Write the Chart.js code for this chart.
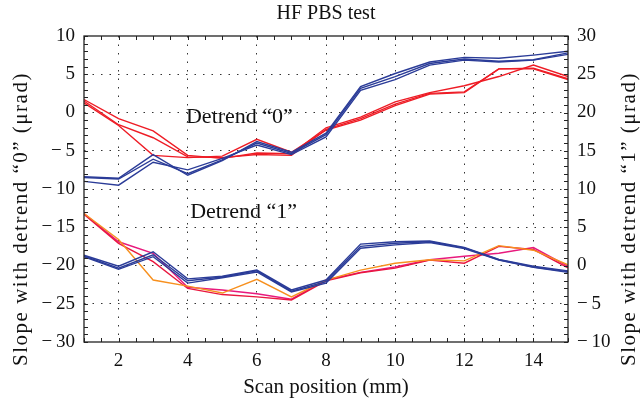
<!DOCTYPE html>
<html>
<head>
<meta charset="utf-8">
<script src="https://cdn.jsdelivr.net/npm/chart.js@4.4.1/dist/chart.umd.min.js"></script>
<style>
  html, body { margin: 0; padding: 0; background: #fff; }
  #wrap { width: 643px; height: 404px; }
</style>
</head>
<body>
<div id="wrap"><canvas id="chart"></canvas></div>
<script>
// HF PBS test - slope vs scan position, two detrend modes

// scan positions (mm)
const positions = [1, 2, 3, 4, 5, 6, 7, 8, 9, 10, 11, 12, 13, 14, 15];
const xTickLabels = [2, 4, 6, 8, 10, 12, 14];

// detrend "0" runs (left axis)
const blue0a = [-8.4, -8.6, -5.5, -8.2, -6.3, -3.8, -5.2, -2.7, 3.4, 5.1, 6.6, 7.2, 7.1, 7.5, 8.0];
const blue0b = [-8.5, -8.7, -6.1, -8.0, -6.2, -4.0, -5.35, -2.9, 3.15, 4.7, 6.4, 7.0, 6.7, 6.9, 7.8];
const blue0c = [-9.0, -9.5, -6.5, -7.5, -6.0, -4.25, -5.5, -3.2, 2.9, 4.3, 6.2, 6.85, 6.6, 6.85, 7.6];
const red0a = [1.7, -0.8, -2.4, -5.6, -6.0, -5.3, -5.4, -2.0, -0.6, 1.4, 2.6, 3.5, 4.7, 6.2, 4.7];
const red0b = [1.5, -1.6, -3.3, -5.8, -5.9, -5.5, -5.6, -2.2, -0.8, 1.1, 2.5, 2.7, 5.7, 5.8, 4.4];
const red0c = [1.25, -1.7, -5.6, -5.9, -5.7, -3.5, -5.2, -2.3, -1.0, 0.9, 2.4, 2.6, 5.7, 5.7, 4.3];

// detrend "1" runs (right axis)
const blue1a = [1.35, -0.1, 1.8, -1.75, -1.4, -0.6, -3.2, -1.9, 2.8, 3.1, 3.2, 2.35, 0.8, -0.1, -0.7];
const blue1b = [1.25, -0.35, 1.4, -2.0, -1.5, -0.7, -3.35, -2.1, 2.5, 2.9, 3.1, 2.3, 0.75, -0.2, -0.8];
const blue1c = [1.15, -0.5, 1.15, -2.3, -1.6, -0.85, -3.45, -2.3, 2.25, 2.7, 3.0, 2.2, 0.7, -0.25, -0.9];
const orange1 = [6.8, 3.4, -1.9, -2.7, -3.6, -1.8, -4.1, -1.9, -0.6, 0.3, 0.75, 0.6, 2.6, 2.0, 0.1];
const pink1 = [6.8, 3.1, 1.6, -2.85, -3.2, -3.7, -4.4, -1.9, -0.9, -0.2, 0.75, 1.2, 1.6, 2.35, -0.1];
const crimson1 = [6.7, 2.9, 0.5, -3.0, -3.8, -4.1, -4.5, -2.0, -0.95, -0.35, 0.7, 0.3, 2.5, 2.1, -0.3];

const BLUE = '#2b3c98';
const RED = '#ee1c25';
const ORANGE = '#f7901e';
const PINK = '#e8197d';
const CRIMSON = '#e9173f';

const SERIF = '"Liberation Serif", "DejaVu Serif", serif';

function minusLabel(v) {
    return v < 0 ? '\u2212\u2009' + Math.abs(v) : String(v);
}

function series(values, color, axis) {
    return {
        data: positions.map((x, i) => ({ x: x, y: values[i] })),
        borderColor: color,
        borderWidth: 1.4,
        pointRadius: 0,
        tension: 0,
        fill: false,
        yAxisID: axis
    };
}

// box, inward ticks, axis titles and the two in-plot labels
const framePlugin = {
    id: 'frame',
    afterDraw(chart) {
        const { ctx, chartArea: a, scales } = chart;
        const tl = 4;
        ctx.save();
        ctx.strokeStyle = '#222';
        ctx.lineWidth = 1;
        for (let v = 1; v <= 15; v += 0.5) {
            const px = Math.round(scales.x.getPixelForValue(v)) + 0.5;
            ctx.beginPath();
            ctx.moveTo(px, a.bottom); ctx.lineTo(px, a.bottom - tl);
            ctx.moveTo(px, a.top); ctx.lineTo(px, a.top + tl);
            ctx.stroke();
        }
        for (let v = -30; v <= 10; v += 1) {
            const py = Math.round(scales.y.getPixelForValue(v)) + 0.5;
            ctx.beginPath();
            ctx.moveTo(a.left, py); ctx.lineTo(a.left + tl, py);
            ctx.moveTo(a.right, py); ctx.lineTo(a.right - tl, py);
            ctx.stroke();
        }
        ctx.lineWidth = 1.3;
        ctx.strokeRect(a.left, a.top, a.right - a.left, a.bottom - a.top);

        ctx.fillStyle = '#111';
        ctx.textAlign = 'center';
        ctx.textBaseline = 'middle';
        ctx.font = '20px ' + SERIF;
        ctx.fillText('HF PBS test', (a.left + a.right) / 2, 14);
        ctx.font = '21px ' + SERIF;
        ctx.fillText('Scan position (mm)', (a.left + a.right) / 2, 387);

        const midY = (a.top + a.bottom) / 2 + 30;
        ctx.font = '21px ' + SERIF;
        if ('letterSpacing' in ctx) ctx.letterSpacing = '1.5px';
        ctx.save();
        ctx.translate(21, midY);
        ctx.rotate(-Math.PI / 2);
        ctx.fillText('Slope with detrend \u201c0\u201d (\u03bcrad)', 0, 0);
        ctx.restore();
        ctx.save();
        ctx.translate(629, midY);
        ctx.rotate(-Math.PI / 2);
        ctx.fillText('Slope with detrend \u201c1\u201d (\u03bcrad)', 0, 0);
        ctx.restore();
        if ('letterSpacing' in ctx) ctx.letterSpacing = '0px';

        ctx.textAlign = 'left';
        ctx.font = '22px ' + SERIF;
        ctx.fillText('Detrend \u201c0\u201d', scales.x.getPixelForValue(3.95), scales.y.getPixelForValue(-0.6));
        ctx.fillText('Detrend \u201c1\u201d', scales.x.getPixelForValue(4.07), scales.y.getPixelForValue(-13));
        ctx.restore();
    }
};

const gridDash = { display: false, dash: [1.5, 7] };

new Chart(document.getElementById('chart'), {
    type: 'line',
    plugins: [framePlugin],
    data: {
        datasets: [
            series(blue0a, BLUE, 'y'),
            series(blue0b, BLUE, 'y'),
            series(blue0c, BLUE, 'y'),
            series(red0a, RED, 'y'),
            series(red0b, RED, 'y'),
            series(red0c, RED, 'y'),
            series(blue1a, BLUE, 'y2'),
            series(blue1b, BLUE, 'y2'),
            series(blue1c, BLUE, 'y2'),
            series(orange1, ORANGE, 'y2'),
            series(crimson1, CRIMSON, 'y2'),
            series(pink1, PINK, 'y2')
        ]
    },
    options: {
        responsive: true,
        maintainAspectRatio: false,
        animation: false,
        events: [],
        layout: { padding: { top: 36, left: 0, right: 0, bottom: 0 } },
        plugins: {
            legend: { display: false },
            title: { display: false },
            tooltip: { enabled: false }
        },
        scales: {
            x: {
                type: 'linear',
                min: 1,
                max: 15,
                afterBuildTicks: s => { s.ticks = xTickLabels.map(v => ({ value: v })); },
                afterFit: s => { s.height = 62; },
                ticks: {
                    color: '#111',
                    padding: 8,
                    maxRotation: 0,
                    font: { family: SERIF, size: 19 },
                    callback: v => minusLabel(v)
                },
                grid: { color: '#333', lineWidth: 1, drawTicks: false },
                border: gridDash
            },
            y: {
                position: 'left',
                min: -30,
                max: 10,
                afterFit: s => { s.width = 84; },
                ticks: {
                    stepSize: 5,
                    color: '#111',
                    padding: 9,
                    font: { family: SERIF, size: 19 },
                    callback: v => minusLabel(v)
                },
                grid: {
                    drawTicks: false,
                    lineWidth: 1,
                    color: c => (c.tick.value === 10 || c.tick.value === -30) ? 'rgba(0,0,0,0)' : '#333'
                },
                border: gridDash
            },
            y2: {
                position: 'right',
                min: -10,
                max: 30,
                afterFit: s => { s.width = 75; },
                ticks: {
                    stepSize: 5,
                    color: '#111',
                    padding: 9,
                    font: { family: SERIF, size: 19 },
                    callback: v => minusLabel(v)
                },
                grid: { display: false, drawTicks: false },
                border: { display: false }
            }
        }
    }
});
</script>
</body>
</html>
